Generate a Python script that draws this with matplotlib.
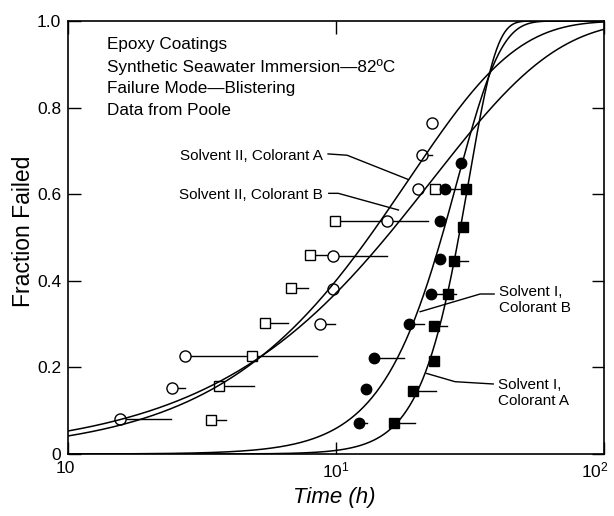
import numpy as np
import matplotlib
matplotlib.use("Agg")
import matplotlib.pyplot as plt
import matplotlib.transforms as mtransforms
from matplotlib.ticker import NullLocator

plt.rcParams['font.family'] = ['Liberation Sans', 'DejaVu Sans']
plt.rcParams['mathtext.fontset'] = 'custom'
plt.rcParams['mathtext.rm'] = 'Liberation Sans'
plt.rcParams['mathtext.it'] = 'Liberation Sans:italic'

# ---------------- data ----------------
# Solvent II, Colorant A (open circles)
s2a_x = [1.56, 2.44, 2.74, 8.71, 9.77, 9.77, 15.5, 20.3, 21.0, 22.8]
s2a_y = [0.080, 0.153, 0.226, 0.300, 0.380, 0.457, 0.539, 0.611, 0.691, 0.764]
s2a_end = [2.42, 2.73, 4.85, 9.9, 9.77, 15.5, 15.5, 20.3, 22.9, 22.8]

# Solvent II, Colorant B (open squares)
s2b_x = [3.41, 3.67, 4.85, 5.43, 6.79, 8.0, 9.9, 23.5]
s2b_y = [0.078, 0.157, 0.226, 0.303, 0.383, 0.460, 0.537, 0.611]
s2b_end = [3.87, 4.94, 8.5, 6.6, 7.87, 9.77, 22.0, 25.5]

# Solvent I, Colorant B (filled circles)
s1b_x = [12.2, 12.9, 13.9, 18.7, 22.7, 24.4, 24.5, 25.5, 29.3]
s1b_y = [0.071, 0.150, 0.222, 0.300, 0.370, 0.450, 0.537, 0.611, 0.673]
s1b_end = [13.1, 12.9, 17.9, 21.3, 26.2, 24.4, 24.5, 30.5, 29.3]

# Solvent I, Colorant A (filled squares)
s1a_x = [16.4, 19.3, 23.2, 23.2, 26.2, 27.5, 29.8, 30.5]
s1a_y = [0.071, 0.145, 0.215, 0.296, 0.370, 0.446, 0.524, 0.611]
s1a_end = [19.7, 23.6, 23.2, 25.9, 28.1, 31.0, 29.8, 30.5]

# fitted Weibull curves (shape beta, scale eta in hours)
fit_s2a = (1.08, 18.6)
fit_s2b = (0.93, 22.8)
fit_s1b = (2.68, 28.4)
fit_s1a = (4.2, 31.3)

x_ticks = [1, 10, 100]
x_tick_labels = ["10", r"10$^{1}$", r"10$^{2}$"]
y_ticks = [0, 0.2, 0.4, 0.6, 0.8, 1.0]
y_tick_labels = ["0", "0.2", "0.4", "0.6", "0.8", "1.0"]

info_lines = ["Epoxy Coatings",
              "Synthetic Seawater Immersion\u201482\u00baC",
              "Failure Mode\u2014Blistering",
              "Data from Poole"]

# ---------------- figure ----------------
W, H = 614, 516
fig = plt.figure(figsize=(W / 100, H / 100), dpi=100)
ax = fig.add_axes([68 / W, 1 - 454 / H, 536 / W, 433 / H])
ax.set_xscale('log')
ax.set_xlim(1, 100)
ax.set_ylim(0, 1.0)

tt = np.logspace(0, 2, 500)
for beta, eta in (fit_s2a, fit_s2b, fit_s1b, fit_s1a):
    ax.plot(tt, 1 - np.exp(-(tt / eta) ** beta), color='black', lw=1.1, zorder=3)

def whiskers(xs, ys, ends):
    for x, y, e in zip(xs, ys, ends):
        if e > x:
            ax.plot([x, e], [y, y], color='black', lw=1.0, zorder=1)

for xs, ys, es in ((s2a_x, s2a_y, s2a_end), (s2b_x, s2b_y, s2b_end),
                   (s1b_x, s1b_y, s1b_end), (s1a_x, s1a_y, s1a_end)):
    whiskers(xs, ys, es)

ax.plot(s2a_x, s2a_y, 'o', ms=8, mfc='white', mec='black', mew=1.0, zorder=2)
ax.plot(s2b_x, s2b_y, 's', ms=7, mfc='white', mec='black', mew=1.0, zorder=2)
ax.plot(s1b_x, s1b_y, 'o', ms=7.5, mfc='black', mec='black', zorder=4)
ax.plot(s1a_x, s1a_y, 's', ms=7, mfc='black', mec='black', zorder=4)

# leader lines and labels
leaders = [
    ([9.34, 11.0, 18.6], [0.693, 0.690, 0.634]),
    ([9.40, 10.2, 17.1], [0.602, 0.602, 0.5635]),
    ([38.9, 34.5, 20.6], [0.3695, 0.3695, 0.3286]),
    ([38.6, 27.8, 21.8], [0.1617, 0.167, 0.186]),
]
for lx, ly in leaders:
    ax.plot(lx, ly, color='black', lw=1.0, zorder=3)

def ftext(px, py, s, **kw):
    fig.text(px / W, 1 - py / H, s, **kw)

ftext(323, 156, "Solvent II, Colorant A", ha='right', va='center', fontsize=11)
ftext(323, 195, "Solvent II, Colorant B", ha='right', va='center', fontsize=11)
ftext(499, 300, "Solvent I,\nColorant B", ha='left', va='center', fontsize=11, linespacing=1.15)
ftext(498, 393, "Solvent I,\nColorant A", ha='left', va='center', fontsize=11, linespacing=1.15)

for i, s in enumerate(info_lines):
    ftext(107, 45 + 22 * i, s, ha='left', va='center', fontsize=12.3)

# axes styling
ax.set_xticks(x_ticks)
ax.set_xticklabels(x_tick_labels)
ax.xaxis.set_minor_locator(NullLocator())
ax.set_yticks(y_ticks)
ax.set_yticklabels(y_tick_labels)
ax.tick_params(direction='in', length=9, width=1.0, top=True, right=True,
               labelsize=12.5, pad=5)
for sp in ax.spines.values():
    sp.set_linewidth(1.2)

# shift the end labels inward as in the reference
xlabels = ax.get_xticklabels()
xlabels[-1].set_transform(xlabels[-1].get_transform() +
                          mtransforms.ScaledTranslation(-9 / 100, 0, fig.dpi_scale_trans))
xlabels[0].set_transform(xlabels[0].get_transform() +
                         mtransforms.ScaledTranslation(-3 / 100, 0, fig.dpi_scale_trans))

ftext(24, 231, "Fraction Failed", rotation=90, ha='center', va='center', fontsize=16.5)
ftext(334, 497, "Time (h)", ha='center', va='center', fontsize=16, style='italic')

fig.savefig("out.png", dpi=100)
